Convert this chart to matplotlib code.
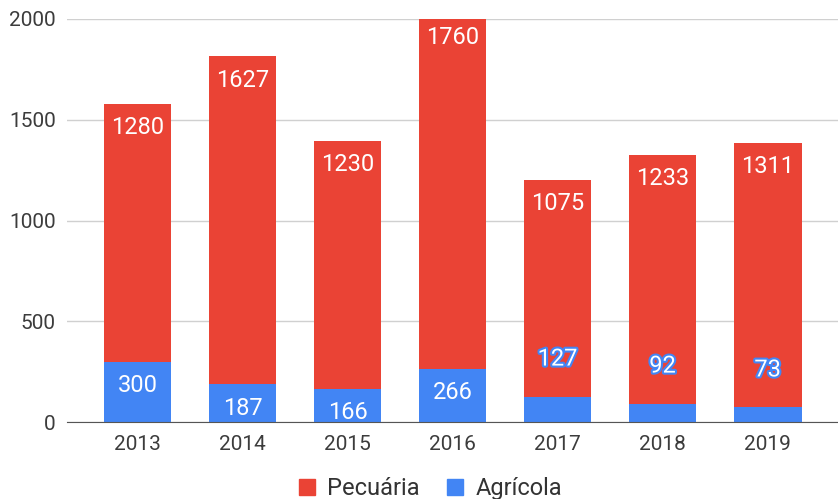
import matplotlib
matplotlib.use("Agg")
import matplotlib.pyplot as plt
import matplotlib.patheffects as pe
from matplotlib.lines import Line2D
import numpy as np

plt.rcParams['font.family'] = ['Roboto', 'DejaVu Sans']

years = ['2013', '2014', '2015', '2016', '2017', '2018', '2019']
agricola = [300, 187, 166, 266, 127, 92, 73]
pecuaria = [1280, 1627, 1230, 1760, 1075, 1233, 1311]
yticks = [0, 500, 1000, 1500, 2000]

RED = '#EA4335'
BLUE = '#4285F4'

fig = plt.figure(figsize=(8.38, 4.99), dpi=100)
ax = fig.add_axes([0.08, 0.154, 0.92, 0.808])

x = np.arange(len(years))
w = 0.645
ax.bar(x, agricola, width=w, color=BLUE, zorder=2)
ax.bar(x, pecuaria, width=w, bottom=agricola, color=RED, zorder=2)

ax.set_ylim(0, 2000)
ax.set_xlim(-0.67, len(years) - 0.33)
ax.set_yticks(yticks)
ax.set_xticks(x)
ax.set_xticklabels(years)
ax.tick_params(axis='both', length=0, labelsize=15, colors='#3c3c3c')
ax.tick_params(axis='y', pad=8)
ax.tick_params(axis='x', pad=9)
ax.grid(axis='y', color='#d0d0d0', linewidth=1, zorder=0)
for s in ['top', 'right', 'left']:
    ax.spines[s].set_visible(False)
ax.spines['bottom'].set_color('#555555')
ax.spines['bottom'].set_zorder(3)

for i in range(len(years)):
    a = agricola[i]
    p = pecuaria[i]
    top = min(a + p, 2000)
    off = -17 if a + p <= 2000 else -13
    ax.annotate(str(p), (x[i], top), xytext=(0, off), textcoords='offset points',
                ha='center', va='center', color='white', fontsize=17, zorder=4,
                annotation_clip=False)
    if a >= 150:
        ax.annotate(str(a), (x[i], a), xytext=(0, -17), textcoords='offset points',
                    ha='center', va='center', color='white', fontsize=17, zorder=4)
    else:
        ax.annotate(str(a), (x[i], a), xytext=(0, 27), textcoords='offset points',
                    ha='center', va='center', color='white', fontsize=17, zorder=4,
                    path_effects=[pe.withStroke(linewidth=3, foreground=BLUE)])

handles = [Line2D([], [], marker='s', linestyle='none', markersize=11.5, color=RED),
           Line2D([], [], marker='s', linestyle='none', markersize=11.5, color=BLUE)]
fig.legend(handles, ['Pecuária', 'Agrícola'], loc='lower center', ncol=2,
           bbox_to_anchor=(0.513, -0.045), frameon=False, fontsize=17,
           handlelength=0.8, handletextpad=0.45, columnspacing=1.1,
           labelcolor='#333333')

fig.savefig('out.png', dpi=100)
